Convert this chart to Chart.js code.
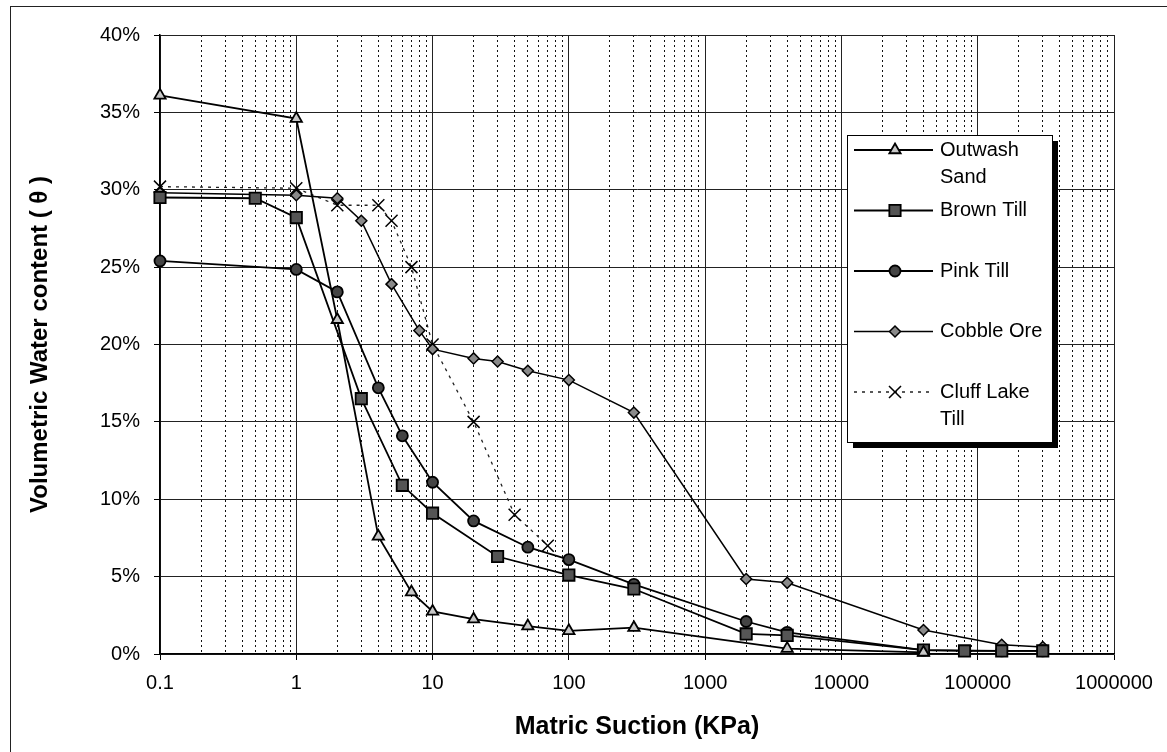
<!DOCTYPE html>
<html>
<head>
<meta charset="utf-8">
<title>Soil water characteristic curves</title>
<script src="https://cdn.jsdelivr.net/npm/chart.js@4/dist/chart.umd.min.js"></script>
<style>
    html, body { margin: 0; padding: 0; background: #fff; }
    #wrap { position: relative; width: 1167px; height: 752px; }
</style>
</head>
<body>
<div id="wrap"><canvas id="chart" width="1167" height="752"></canvas></div>
<script>
// Matric suction (kPa) vs volumetric water content (%)

const xTickLabels = [0.1, 1, 10, 100, 1000, 10000, 100000, 1000000];

const seriesNames = ['Outwash Sand', 'Brown Till', 'Pink Till', 'Cobble Ore', 'Cluff Lake Till'];

const outwashX = [0.1, 1, 2, 4, 7, 10, 20, 50, 100, 300, 4000, 40000];
const outwashY = [36.1, 34.6, 21.6, 7.6, 4.0, 2.75, 2.25, 1.8, 1.5, 1.7, 0.35, 0.1];

const brownX = [0.1, 0.5, 1, 3, 6, 10, 30, 100, 300, 2000, 4000, 40000, 80000, 150000, 300000];
const brownY = [29.5, 29.45, 28.2, 16.5, 10.9, 9.1, 6.3, 5.1, 4.2, 1.3, 1.2, 0.25, 0.2, 0.2, 0.2];

const pinkX = [0.1, 1, 2, 4, 6, 10, 20, 50, 100, 300, 2000, 4000, 40000, 150000, 300000];
const pinkY = [25.4, 24.85, 23.4, 17.2, 14.1, 11.1, 8.6, 6.9, 6.1, 4.5, 2.1, 1.4, 0.25, 0.2, 0.2];

const cobbleX = [0.1, 1, 2, 3, 5, 8, 10, 20, 30, 50, 100, 300, 2000, 4000, 40000, 150000, 300000];
const cobbleY = [29.8, 29.65, 29.45, 28.0, 23.9, 20.9, 19.7, 19.1, 18.9, 18.3, 17.7, 15.6, 4.85, 4.6, 1.55, 0.6, 0.45];

const cluffX = [0.1, 1, 2, 4, 5, 7, 10, 20, 40, 70];
const cluffY = [30.2, 30.1, 29.0, 29.0, 28.0, 25.0, 20.0, 15.0, 9.0, 7.0];

function toPoints(xs, ys) {
    return xs.map((x, i) => ({ x: x, y: ys[i] }));
}

// all 1..9 x 10^n ticks so the minor (dotted) verticals get drawn too
function buildLogTicks(scale) {
    const ticks = [];
    xTickLabels.forEach((d, i) => {
        ticks.push({ value: d, decade: true });
        if (i < xTickLabels.length - 1) {
            for (let m = 2; m <= 9; m++) ticks.push({ value: d * m, decade: false });
        }
    });
    scale.ticks = ticks;
}

const isMinor = ctx => ctx.tick && !ctx.tick.decade;

// legend box drawn inside the plot, with the drop shadow of the original
const boxLegend = {
    id: 'boxLegend',
    afterDraw(chart) {
        const ctx = chart.ctx;
        const bx = 847, by = 135, bw = 205, bh = 307;
        ctx.save();
        ctx.fillStyle = '#000';
        ctx.fillRect(bx + 6, by + 6, bw, bh);
        ctx.fillStyle = '#fff';
        ctx.fillRect(bx, by, bw, bh);
        ctx.strokeStyle = '#000';
        ctx.lineWidth = 1;
        ctx.strokeRect(bx + 0.5, by + 0.5, bw, bh);

        ctx.font = '20px "Liberation Sans", Arial, sans-serif';
        ctx.textBaseline = 'middle';
        ctx.textAlign = 'left';
        const textX = 940, maxW = 106;
        chart.data.datasets.forEach((ds, i) => {
            const y = 150 + i * 60.5;
            // sample line
            ctx.strokeStyle = ds.borderColor;
            ctx.lineWidth = ds.borderWidth;
            ctx.setLineDash(ds.borderDash || []);
            ctx.beginPath();
            ctx.moveTo(854, y);
            ctx.lineTo(933, y);
            ctx.stroke();
            ctx.setLineDash([]);
            // marker
            ctx.fillStyle = ds.pointBackgroundColor;
            ctx.strokeStyle = ds.pointBorderColor;
            ctx.lineWidth = ds.pointBorderWidth;
            Chart.helpers.drawPoint(ctx, {
                pointStyle: ds.pointStyle,
                radius: ds.pointRadius,
                rotation: 0,
                borderWidth: ds.pointBorderWidth
            }, 895, y);
            // wrapped label
            ctx.fillStyle = '#000';
            const words = ds.label.split(' ');
            let line = '', ly = y;
            words.forEach(w => {
                const test = line ? line + ' ' + w : w;
                if (line && ctx.measureText(test).width > maxW) {
                    ctx.fillText(line, textX, ly);
                    line = w;
                    ly += 27;
                } else {
                    line = test;
                }
            });
            ctx.fillText(line, textX, ly);
        });
        ctx.restore();
    }
};

// thin frame around the whole figure
const frame = {
    id: 'frame',
    beforeDraw(chart) {
        const ctx = chart.ctx;
        ctx.save();
        ctx.fillStyle = '#fff';
        ctx.fillRect(0, 0, chart.width, chart.height);
        ctx.strokeStyle = '#222';
        ctx.lineWidth = 1;
        ctx.strokeRect(10.5, 6.5, 1180, 780);
        ctx.restore();
    }
};

Chart.defaults.font.family = '"Liberation Sans", Arial, sans-serif';
Chart.defaults.color = '#000';

const common = {
    showLine: true,
    tension: 0,
    borderColor: '#000',
    borderWidth: 1.8,
    pointBorderColor: '#000',
    pointBorderWidth: 1.8,
    clip: false
};

const datasets = [
    Object.assign({}, common, {
        label: seriesNames[0],
        data: toPoints(outwashX, outwashY),
        pointStyle: 'triangle',
        pointRadius: 6.5,
        pointBackgroundColor: '#c8c8c8'
    }),
    Object.assign({}, common, {
        label: seriesNames[1],
        data: toPoints(brownX, brownY),
        pointStyle: 'rect',
        pointRadius: 8,
        pointBackgroundColor: '#555'
    }),
    Object.assign({}, common, {
        label: seriesNames[2],
        data: toPoints(pinkX, pinkY),
        pointStyle: 'circle',
        pointRadius: 5.5,
        pointBackgroundColor: '#444'
    }),
    Object.assign({}, common, {
        label: seriesNames[3],
        data: toPoints(cobbleX, cobbleY),
        borderWidth: 1.5,
        pointStyle: 'rectRot',
        pointRadius: 5.5,
        pointBorderWidth: 1.5,
        pointBackgroundColor: '#8a8a8a'
    }),
    Object.assign({}, common, {
        label: seriesNames[4],
        data: toPoints(cluffX, cluffY),
        borderColor: '#222',
        borderWidth: 1.3,
        borderDash: [3, 5],
        pointStyle: 'crossRot',
        pointRadius: 8.5,
        pointBackgroundColor: '#000',
        pointBorderWidth: 1.5
    })
];

new Chart(document.getElementById('chart'), {
    type: 'scatter',
    data: { datasets: datasets },
    plugins: [frame, boxLegend],
    options: {
        responsive: false,
        animation: false,
        layout: { padding: { left: 0, right: 53, top: 35, bottom: 0 } },
        plugins: {
            legend: { display: false },
            tooltip: { enabled: false }
        },
        scales: {
            x: {
                type: 'logarithmic',
                position: 'bottom',
                min: 0.1,
                max: 1000000,
                afterBuildTicks: buildLogTicks,
                afterFit: scale => { scale.height = 98; },
                ticks: {
                    autoSkip: false,
                    maxRotation: 0,
                    minRotation: 0,
                    padding: 11,
                    font: { size: 20 },
                    color: '#000',
                    callback: (value, index, ticks) => ticks[index].decade ? String(value) : ''
                },
                grid: {
                    color: ctx => isMinor(ctx) ? '#111' : '#222',
                    lineWidth: 1,
                    tickLength: 6,
                    tickColor: ctx => isMinor(ctx) ? 'rgba(0,0,0,0)' : '#000'
                },
                border: {
                    display: true,
                    color: '#000',
                    width: 1.5,
                    dash: ctx => isMinor(ctx) ? [2, 3] : []
                },
                title: {
                    display: true,
                    text: 'Matric Suction (KPa)',
                    color: '#000',
                    font: { size: 25, weight: 'bold' },
                    padding: { top: 0, bottom: 10 }
                }
            },
            y: {
                type: 'linear',
                min: 0,
                max: 40,
                afterFit: scale => { scale.width = 160; },
                ticks: {
                    stepSize: 5,
                    padding: 14,
                    font: { size: 20 },
                    color: '#000',
                    callback: v => v + '%'
                },
                grid: {
                    color: '#222',
                    lineWidth: 1,
                    tickLength: 6,
                    tickColor: '#000'
                },
                border: { display: true, color: '#000', width: 1.5 },
                title: {
                    display: true,
                    text: 'Volumetric Water content ( θ )',
                    color: '#000',
                    font: { size: 24, weight: 'bold' },
                    padding: { top: 26, bottom: 0 }
                }
            }
        }
    }
});
</script>
</body>
</html>
